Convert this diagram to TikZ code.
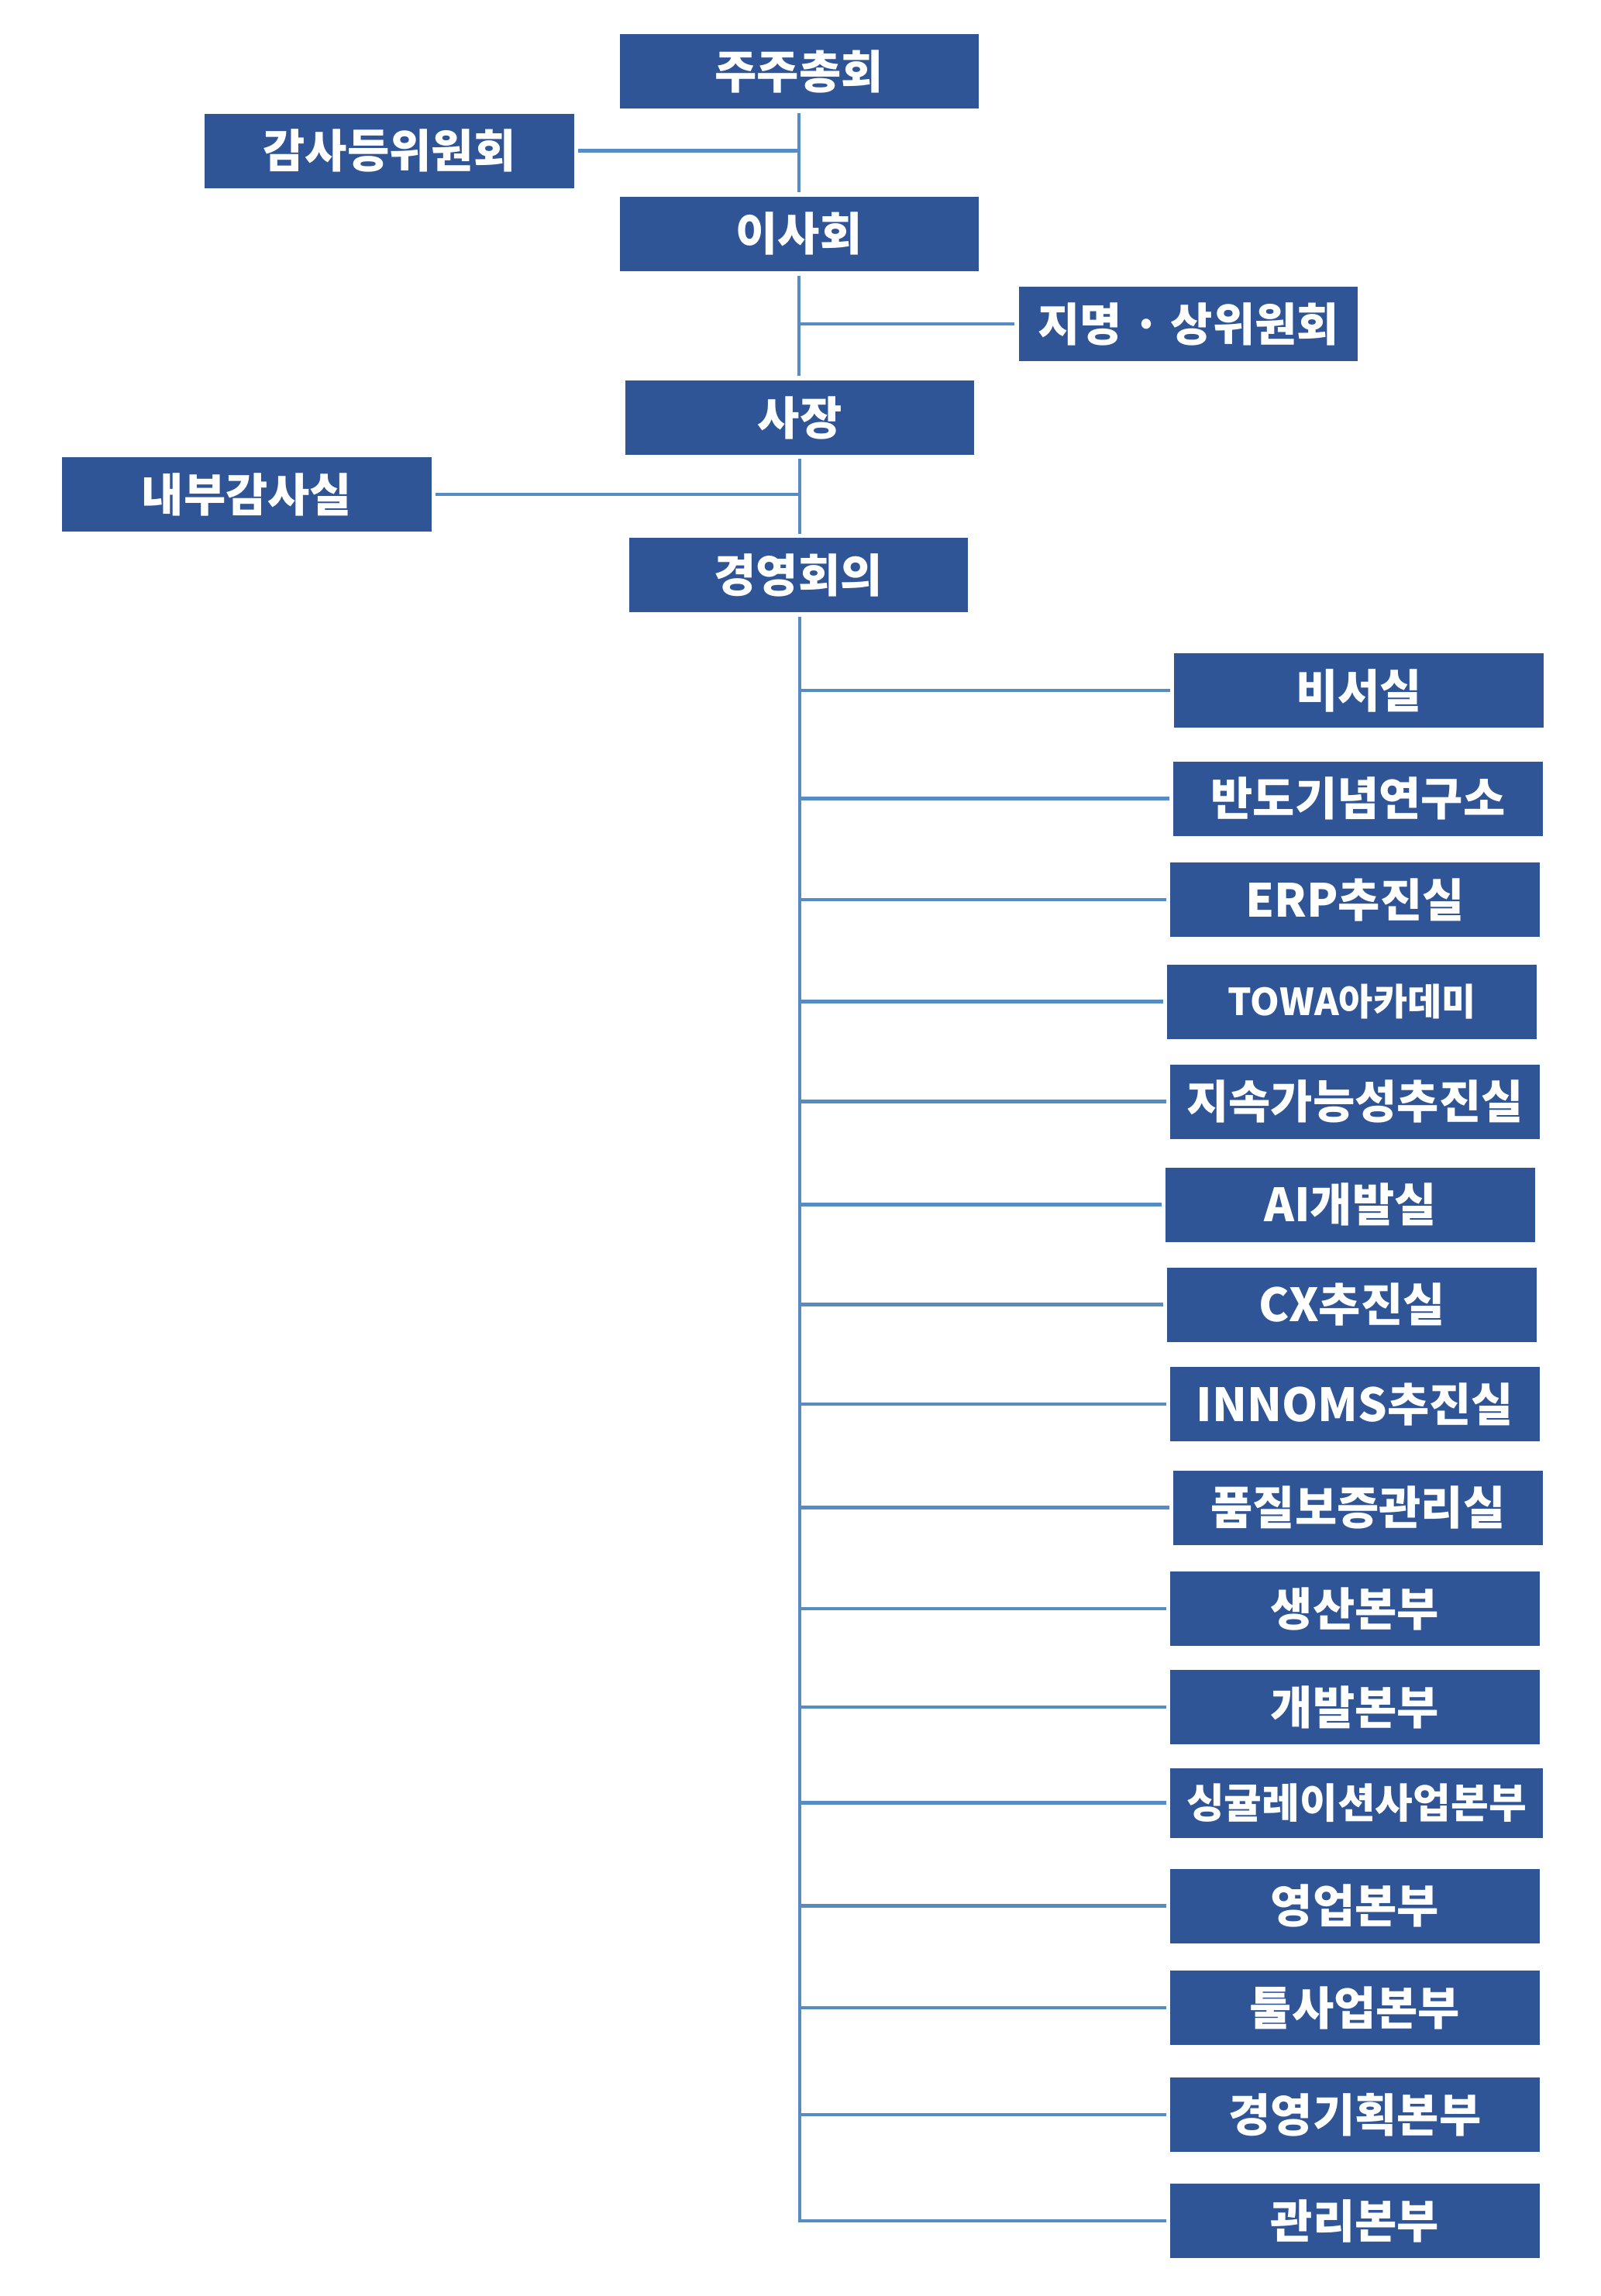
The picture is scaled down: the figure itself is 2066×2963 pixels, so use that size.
\documentclass[tikz,border=0pt]{standalone}
\usepackage{fontspec}
\setmainfont{Noto Sans CJK KR}
\definecolor{boxblue}{HTML}{2F5597}
\definecolor{lineblue}{HTML}{558CC4}
\begin{document}
\begin{tikzpicture}[x=1pt,y=-1pt,
    orgbox/.style={fill=boxblue, text=white, inner sep=0pt, minimum height=96pt, minimum width=477pt,
        font=\fontsize{59}{63}\selectfont\bfseries},
    link/.style={draw=lineblue, line width=4.6pt}]
                \useasboundingbox (0,0) rectangle (2066,2963);
                \node[orgbox, minimum width=463pt] (gm) at (1031,92) {주주총회}; \node[orgbox] (audit) at (502.5,194.5) {감사등위원회};
                \node[orgbox, minimum width=463pt] (board) at (1031,301.5) {이사회}; \node[orgbox, minimum width=437pt] (nom) at (1533.5,418) {지명 · 상위원회};
                \node[orgbox, minimum width=450pt] (ceo) at (1032,539) {사장}; \node[orgbox] (intaudit) at (318.5,638) {내부감사실};
                \node[orgbox, minimum width=437pt] (mgmt) at (1030,742) {경영회의};
                \coordinate (trunk) at (1032,796);

                \node[orgbox] (secr) at (1753.5,891) {비서실}; \node[orgbox] (lab) at (1752.5,1030.5) {반도기념연구소};
                \node[orgbox] (erp) at (1748.5,1161) {ERP추진실}; \node[orgbox, font=\fontsize{48}{52}\selectfont\bfseries] (acad) at (1744.5,1292.5) {TOWA아카데미};
                \node[orgbox] (esg) at (1748.5,1421.5) {지속가능성추진실}; \node[orgbox] (ai) at (1742.5,1554.5) {AI개발실};
                \node[orgbox] (cx) at (1744.5,1683.5) {CX추진실}; \node[orgbox] (innoms) at (1748.5,1812) {INNOMS추진실};
                \node[orgbox] (qa) at (1752.5,1945.5) {품질보증관리실}; \node[orgbox] (prod) at (1748.5,2076) {생산본부};
                \node[orgbox] (dev) at (1748.5,2203) {개발본부}; \node[orgbox, minimum width=481pt, minimum height=90pt, font=\fontsize{53}{57}\selectfont\bfseries] (sing) at (1750.5,2326.5) {싱귤레이션사업본부};
                \node[orgbox] (sales) at (1748.5,2459.5) {영업본부}; \node[orgbox] (tool) at (1748.5,2591) {툴사업본부};
                \node[orgbox] (plan) at (1748.5,2729) {경영기획본부}; \node[orgbox] (admin) at (1748.5,2866) {관리본부};

                \draw[link, shorten <=5.5pt, shorten >=5pt] (gm.south) to (board.north); \draw[link, shorten <=5pt] (audit.east) to (audit.east -| gm.south);
                \draw[link, shorten <=6pt, shorten >=6pt] (board.south) to (board.south |- ceo.north); \draw[link, shorten >=6pt] (board.south |- nom.west) to (nom.west);
                \draw[link, shorten <=5pt, shorten >=5pt] (ceo.south) to (ceo.south |- mgmt.north); \draw[link, shorten <=5pt] (intaudit.east) to (intaudit.east -| ceo.south);
                \draw[link, shorten >=5pt] (trunk) |- (admin.west);
                \draw[link, shorten >=5pt] (trunk |- secr.west) to (secr.west); \draw[link, shorten >=5pt] (trunk |- lab.west) to (lab.west);
                \draw[link, shorten >=5pt] (trunk |- erp.west) to (erp.west); \draw[link, shorten >=5pt] (trunk |- acad.west) to (acad.west);
                \draw[link, shorten >=5pt] (trunk |- esg.west) to (esg.west); \draw[link, shorten >=5pt] (trunk |- ai.west) to (ai.west);
                \draw[link, shorten >=5pt] (trunk |- cx.west) to (cx.west); \draw[link, shorten >=5pt] (trunk |- innoms.west) to (innoms.west);
                \draw[link, shorten >=5pt] (trunk |- qa.west) to (qa.west); \draw[link, shorten >=5pt] (trunk |- prod.west) to (prod.west);
                \draw[link, shorten >=5pt] (trunk |- dev.west) to (dev.west); \draw[link, shorten >=5pt] (trunk |- sing.west) to (sing.west);
                \draw[link, shorten >=5pt] (trunk |- sales.west) to (sales.west); \draw[link, shorten >=5pt] (trunk |- tool.west) to (tool.west);
                \draw[link, shorten >=5pt] (trunk |- plan.west) to (plan.west);
            \end{tikzpicture}
\end{document}
